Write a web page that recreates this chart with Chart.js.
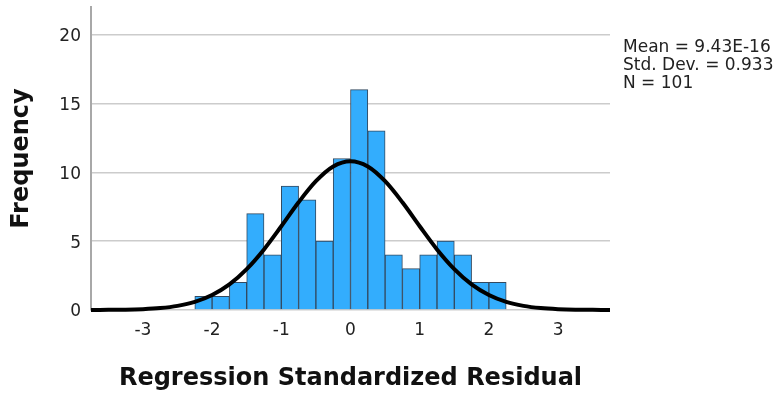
<!DOCTYPE html>
<html><head><meta charset="utf-8">
<script src="https://cdn.jsdelivr.net/npm/chart.js@4.4.1/dist/chart.umd.min.js"></script>
<style>html,body{margin:0;padding:0;background:#fff}canvas{display:block}</style>
</head><body>
<canvas id="c" width="780" height="395"></canvas>
<script>
// Histogram bins (centres) and counts
const binCenters = [-2.125,-1.875,-1.625,-1.375,-1.125,-0.875,-0.625,-0.375,-0.125,0.125,0.375,0.625,0.875,1.125,1.375,1.625,1.875,2.125];
const frequencies = [1,1,2,7,4,9,8,5,11,16,13,4,3,4,5,4,2,2];
// Normal curve, points
const curveX = [-3.75,-3.5,-3.25,-3,-2.75,-2.5,-2.25,-2,-1.75,-1.5,-1.25,-1,-0.75,-0.5,-0.25,0,0.25,0.5,0.75,1,1.25,1.5,1.75,2,2.25,2.5,2.75,3,3.25,3.5,3.75];
const curveY = [0.00,0.01,0.02,0.06,0.14,0.30,0.59,1.09,1.86,2.97,4.40,6.08,7.82,9.35,10.42,10.80,10.42,9.35,7.82,6.08,4.40,2.97,1.86,1.09,0.59,0.30,0.14,0.06,0.02,0.01,0.00];
const xTicks = [-3,-2,-1,0,1,2,3];
const yTicks = [0,5,10,15,20];
const statsLines = ['Mean = 9.43E-16','Std. Dev. = 0.933','N = 101'];
const xTitle = 'Regression Standardized Residual';
const yTitle = 'Frequency';

Chart.defaults.font.family = '"DejaVu Sans", sans-serif';

const statsPlugin = {
  id: 'stats',
  afterDraw(chart) {
    const ctx = chart.ctx;
    ctx.save();
    ctx.font = '17px "DejaVu Sans"';
    ctx.fillStyle = '#222';
    ctx.textAlign = 'left';
    ctx.textBaseline = 'alphabetic';
    statsLines.forEach((t, i) => ctx.fillText(t, 623, 52 + i * 18));
    ctx.restore();
  }
};

new Chart(document.getElementById('c'), {
  type: 'bar',
  data: {
    datasets: [
      {
        type: 'line',
        data: curveX.map((x, i) => ({x: x, y: curveY[i]})),
        borderColor: '#000',
        borderWidth: 4,
        pointRadius: 0,
        cubicInterpolationMode: 'monotone',
        fill: false,
        clip: 6,
        order: 0
      },
      {
        type: 'bar',
        data: binCenters.map((x, i) => ({x: x, y: frequencies[i]})),
        backgroundColor: '#33adfd',
        borderColor: '#33495f',
        borderWidth: 1,
        barPercentage: 1,
        categoryPercentage: 1,
        grouped: false,
        order: 1
      }
    ]
  },
  options: {
    responsive: false,
    animation: false,
    events: [],
    layout: {padding: {left: 0, right: 170, top: 7, bottom: 0}},
    plugins: {legend: {display: false}, tooltip: {enabled: false}},
    scales: {
      x: {
        type: 'linear',
        offset: false,
        min: -3.75, max: 3.75,
        afterBuildTicks(s) { s.ticks = xTicks.map(v => ({value: v})); },
        afterFit(s) { s.height = 85; },
        grid: {display: false, drawTicks: false, offset: false},
        border: {display: false},
        ticks: {color: '#222', font: {size: 17}, padding: 10, maxRotation: 0},
        title: {display: true, text: xTitle, color: '#111', font: {size: 24, weight: 'bold'}, padding: {top: 2, bottom: 2}}
      },
      y: {
        min: 0, max: 22,
        afterBuildTicks(s) { s.ticks = yTicks.map(v => ({value: v})); },
        afterFit(s) { s.width = 91; s.paddingTop = 0; s.paddingBottom = 0; },
        grid: {color: '#cccccc', lineWidth: 1.5, drawTicks: false},
        border: {display: true, color: '#a8a8a8', width: 2},
        ticks: {color: '#222', font: {size: 17, lineHeight: 0.05}, padding: 10, labelOffset: 2},
        title: {display: true, text: yTitle, color: '#111', font: {size: 24, weight: 'bold'}, padding: {top: 7.5, bottom: 0}}
      }
    }
  },
  plugins: [statsPlugin]
});
</script>
</body></html>
